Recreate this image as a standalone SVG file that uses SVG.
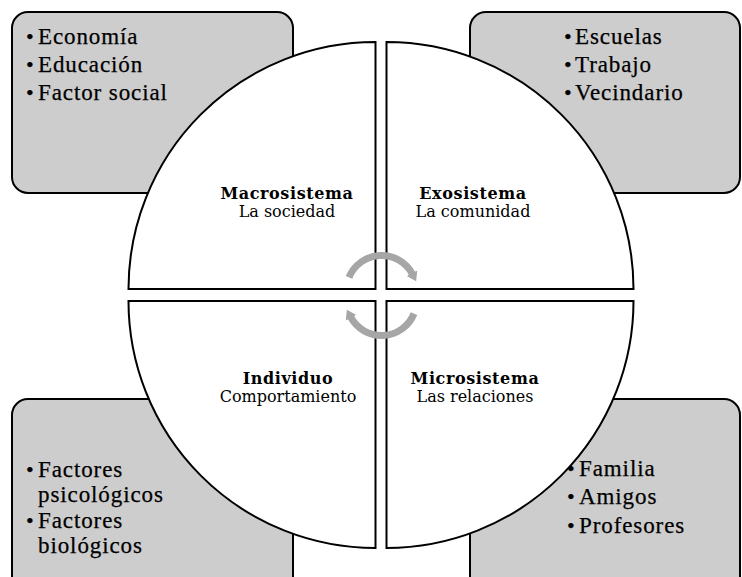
<svg xmlns="http://www.w3.org/2000/svg" width="742" height="577" viewBox="0 0 742 577">
<style>
  .box { fill: #cdcdcd; stroke: #000; stroke-width: 2; }
  .quad { fill: #fff; stroke: #000; stroke-width: 2; stroke-linejoin: miter; }
  .list { font-family: "Liberation Serif", "DejaVu Serif", serif; font-size: 23px; fill: #000; stroke: #000; stroke-width: 0.25px; letter-spacing: 0.9px; }
  .bul { font-size: 22px; }
  .title { font-family: "DejaVu Serif", "Liberation Serif", serif; font-size: 16px; font-weight: bold; fill: #000; text-anchor: middle; letter-spacing: 0.6px; }
  .sub { font-family: "DejaVu Serif", "Liberation Serif", serif; font-size: 16px; fill: #000; text-anchor: middle; }
  .arr { fill: none; stroke: #a6a6a6; stroke-width: 7; }
</style>
<defs>
  <marker id="ah" markerUnits="userSpaceOnUse" markerWidth="12" markerHeight="14" refX="1" refY="7" orient="auto">
    <path d="M0,1 L9,7 L0,13 z" fill="#a6a6a6"/>
  </marker>
</defs>
<rect width="742" height="577" fill="#fff"/>

<g id="box-macro">
  <rect class="box" x="12" y="12" width="281" height="181" rx="16"/>
  <text class="list" x="26" y="44"><tspan class="bul">•</tspan><tspan x="38">Economía</tspan></text>
  <text class="list" x="26" y="72"><tspan class="bul">•</tspan><tspan x="38">Educación</tspan></text>
  <text class="list" x="26" y="100"><tspan class="bul">•</tspan><tspan x="38">Factor social</tspan></text>
</g>
<g id="box-exo">
  <rect class="box" x="470" y="12" width="270" height="181" rx="16"/>
  <text class="list" x="564" y="44"><tspan class="bul">•</tspan><tspan x="575">Escuelas</tspan></text>
  <text class="list" x="564" y="72"><tspan class="bul">•</tspan><tspan x="575">Trabajo</tspan></text>
  <text class="list" x="564" y="100"><tspan class="bul">•</tspan><tspan x="575">Vecindario</tspan></text>
</g>
<g id="box-ind">
  <rect class="box" x="12" y="399" width="281" height="195" rx="16"/>
  <text class="list" x="26" y="477"><tspan class="bul">•</tspan><tspan x="38">Factores</tspan></text>
  <text class="list" x="38" y="502">psicológicos</text>
  <text class="list" x="26" y="528"><tspan class="bul">•</tspan><tspan x="38">Factores</tspan></text>
  <text class="list" x="38" y="553">biológicos</text>
</g>
<g id="box-micro">
  <rect class="box" x="470" y="399" width="270" height="195" rx="16"/>
  <text class="list" x="567" y="476"><tspan class="bul">•</tspan><tspan x="579">Familia</tspan></text>
  <text class="list" x="567" y="504"><tspan class="bul">•</tspan><tspan x="579">Amigos</tspan></text>
  <text class="list" x="567" y="533"><tspan class="bul">•</tspan><tspan x="579">Profesores</tspan></text>
</g>

<g id="q-macro">
  <path class="quad" d="M375.5,289 L375.5,42 A247,247 0 0 0 128.5,289 Z"/>
  <text class="title" x="287" y="199">Macrosistema</text>
  <text class="sub" x="287" y="217">La sociedad</text>
</g>
<g id="q-exo">
  <path class="quad" d="M386.5,289 L386.5,42 A247,247 0 0 1 633.5,289 Z"/>
  <text class="title" x="473" y="199">Exosistema</text>
  <text class="sub" x="473" y="217">La comunidad</text>
</g>
<g id="q-ind">
  <path class="quad" d="M375.5,301 L375.5,548 A247,247 0 0 1 128.5,301 Z"/>
  <text class="title" x="288" y="384">Individuo</text>
  <text class="sub" x="288" y="402">Comportamiento</text>
</g>
<g id="q-micro">
  <path class="quad" d="M386.5,301 L386.5,548 A247,247 0 0 0 633.5,301 Z"/>
  <text class="title" x="475" y="384">Microsistema</text>
  <text class="sub" x="475" y="402">Las relaciones</text>
</g>

<g id="connectors">
  <path class="arr" d="M349,277.4 A35,35 0 0 1 412.4,274.1" marker-end="url(#ah)"/>
  <path class="arr" d="M414,313.6 A35,35 0 0 1 350.6,316.9" marker-end="url(#ah)"/>
</g>
</svg>
